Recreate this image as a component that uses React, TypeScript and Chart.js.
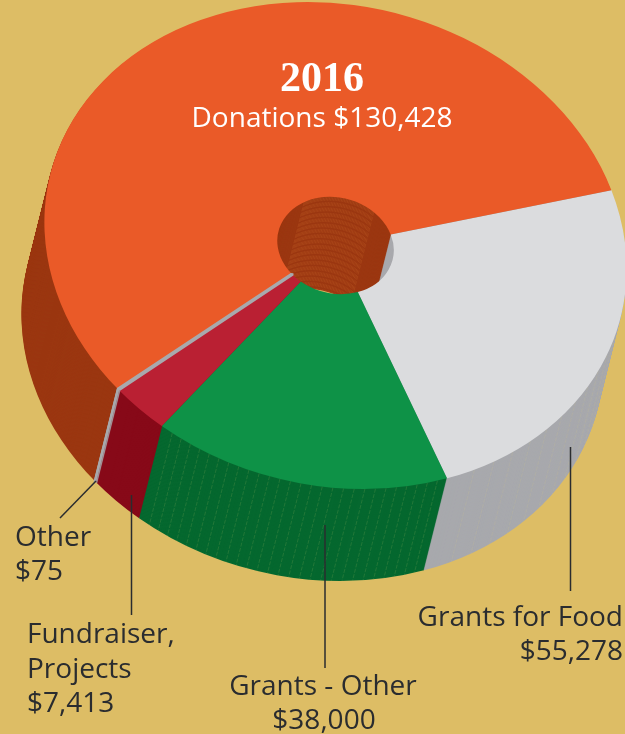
import React, { useEffect, useRef } from "react";
import { Chart, registerables } from "chart.js";

Chart.register(...registerables);

// ---- data ----
const categories = ["Donations", "Grants for Food", "Grants - Other", "Fundraiser, Projects", "Other"];
const amounts = [130428, 55278, 38000, 7413, 75];
const topColors = ["#EA5A28", "#DBDCDE", "#0E9247", "#BA2033", "#A8A9AD"];
const wallColors = ["#9B3711", "#A8A9AD", "#05682F", "#870918", "#A8A9AD"];
const sliceBorders = [0, 0, 0, 0, 4];

// ---- page look ----
const BG = "#DDBD65";
const INK = "#2A2C2F";
const SANS = '"Open Sans"';

// ---- 3D projection of the flat doughnut ----
const CENTER_X = 335.5;
const CENTER_Y = 245.5;
const AXIS_A = 294;
const AXIS_B = 240;
const TILT = (14 * Math.PI) / 180;
const DEPTH_X = -23;
const DEPTH_Y = 92;
const LAYERS = 92;

// [inner rim?, from deg, to deg, step deg, colour]
const stripeSets: [boolean, number, number, number, string][] = [
  [false, 58, 113, 2.1, "rgba(125,165,85,0.42)"],
  [false, 5, 54, 4.5, "rgba(205,195,140,0.3)"],
  [true, 226, 300, 1.5, "rgba(225,125,55,0.3)"],
];

const leaderLines: [number, number, number, number][] = [
  [96, 481, 60, 518],
  [131.5, 495, 131.5, 615],
  [325, 525, 325, 668],
  [570.5, 447, 570.5, 591],
];

type Lbl = { t: string; x: number; y: number; align: CanvasTextAlign; font: string; color: string };
const LABEL = `28px ${SANS}`;
const textLabels: Lbl[] = [
  { t: "2016", x: 322, y: 91, align: "center", font: 'bold 42px "Liberation Serif"', color: "#FFFFFF" },
  { t: "Donations $130,428", x: 322, y: 127, align: "center", font: LABEL, color: "#FFFFFF" },
  { t: "Grants for Food", x: 623, y: 626, align: "right", font: LABEL, color: INK },
  { t: "$55,278", x: 623, y: 660, align: "right", font: LABEL, color: INK },
  { t: "Grants - Other", x: 323, y: 695, align: "center", font: LABEL, color: INK },
  { t: "$38,000", x: 324, y: 729, align: "center", font: LABEL, color: INK },
  { t: "Fundraiser,", x: 27, y: 643, align: "left", font: LABEL, color: INK },
  { t: "Projects", x: 27, y: 678, align: "left", font: LABEL, color: INK },
  { t: "$7,413", x: 27, y: 712, align: "left", font: LABEL, color: INK },
  { t: "Other", x: 15, y: 546, align: "left", font: LABEL, color: INK },
  { t: "$75", x: 15, y: 580, align: "left", font: LABEL, color: INK },
];

const extrudePlugin = {
  id: "extrude",
  beforeDatasetsDraw(chart: any) {
    const { ctx } = chart;
    const arcs = chart.getDatasetMeta(0).data;
    const { x: cx, y: cy, outerRadius: R, innerRadius: r } = arcs[0];
    const sx = AXIS_A / R;
    const sy = AXIS_B / R;

    const place = (dx: number, dy: number) => {
      ctx.translate(CENTER_X + dx, CENTER_Y + dy);
      ctx.rotate(TILT);
      ctx.scale(sx, sy);
      ctx.translate(-cx, -cy);
    };
    const project = (deg: number, rad: number) => {
      const a = (deg * Math.PI) / 180;
      const px = rad * sx * Math.cos(a);
      const py = rad * sy * Math.sin(a);
      return [
        CENTER_X + px * Math.cos(TILT) - py * Math.sin(TILT),
        CENTER_Y + px * Math.sin(TILT) + py * Math.cos(TILT),
      ];
    };

    const originals = arcs.map((a: any) => a.options);

    // side walls, deepest layer first
    arcs.forEach((a: any, i: number) => {
      a.options = { ...originals[i], backgroundColor: wallColors[i], borderColor: wallColors[i] };
    });
    for (let k = LAYERS; k >= 1; k--) {
      ctx.save();
      place((DEPTH_X * k) / LAYERS, (DEPTH_Y * k) / LAYERS);
      arcs.forEach((a: any) => a.draw(ctx));
      ctx.restore();
    }

    // fine seams on the walls
    ctx.save();
    ctx.lineWidth = 0.6;
    ctx.setLineDash([4, 1.5]);
    stripeSets.forEach(([inner, from, to, step, color]) => {
      ctx.strokeStyle = color;
      for (let d = from; d <= to; d += step) {
        const [x, y] = project(d, inner ? r : R);
        ctx.beginPath();
        ctx.moveTo(x, y);
        ctx.lineTo(x + DEPTH_X, y + DEPTH_Y);
        ctx.stroke();
      }
    });
    ctx.restore();

    // top face
    arcs.forEach((a: any, i: number) => {
      a.options = originals[i];
    });
    ctx.save();
    place(0, 0);
    arcs.forEach((a: any) => a.draw(ctx));
    ctx.restore();

    return false;
  },
  afterDraw(chart: any) {
    const { ctx } = chart;
    ctx.save();
    ctx.strokeStyle = INK;
    ctx.lineWidth = 1.5;
    leaderLines.forEach(([x1, y1, x2, y2]) => {
      ctx.beginPath();
      ctx.moveTo(x1, y1);
      ctx.lineTo(x2, y2);
      ctx.stroke();
    });
    ctx.textBaseline = "alphabetic";
    textLabels.forEach((l) => {
      ctx.font = l.font;
      ctx.fillStyle = l.color;
      ctx.textAlign = l.align;
      ctx.fillText(l.t, l.x, l.y);
    });
    ctx.restore();
  },
};

export default function App() {
  const ref = useRef<HTMLCanvasElement | null>(null);
  useEffect(() => {
    const chart = new Chart(ref.current as HTMLCanvasElement, {
      type: "doughnut",
      data: {
        labels: categories,
        datasets: [
          {
            data: amounts,
            backgroundColor: topColors,
            borderColor: topColors,
            borderWidth: sliceBorders,
            hoverOffset: 0,
          },
        ],
      },
      options: {
        responsive: false,
        animation: false,
        cutout: "20%",
        rotation: 216.8,
        layout: { padding: 0 },
        plugins: { legend: { display: false }, tooltip: { enabled: false } },
      },
      plugins: [extrudePlugin],
    } as any);
    return () => chart.destroy();
  }, []);
  return (
    <div style={{ position: "fixed", left: 0, top: 0, width: 625, height: 734, background: BG, overflow: "hidden" }}>
      <canvas ref={ref} width={625} height={734} style={{ display: "block" }} />
    </div>
  );
}
